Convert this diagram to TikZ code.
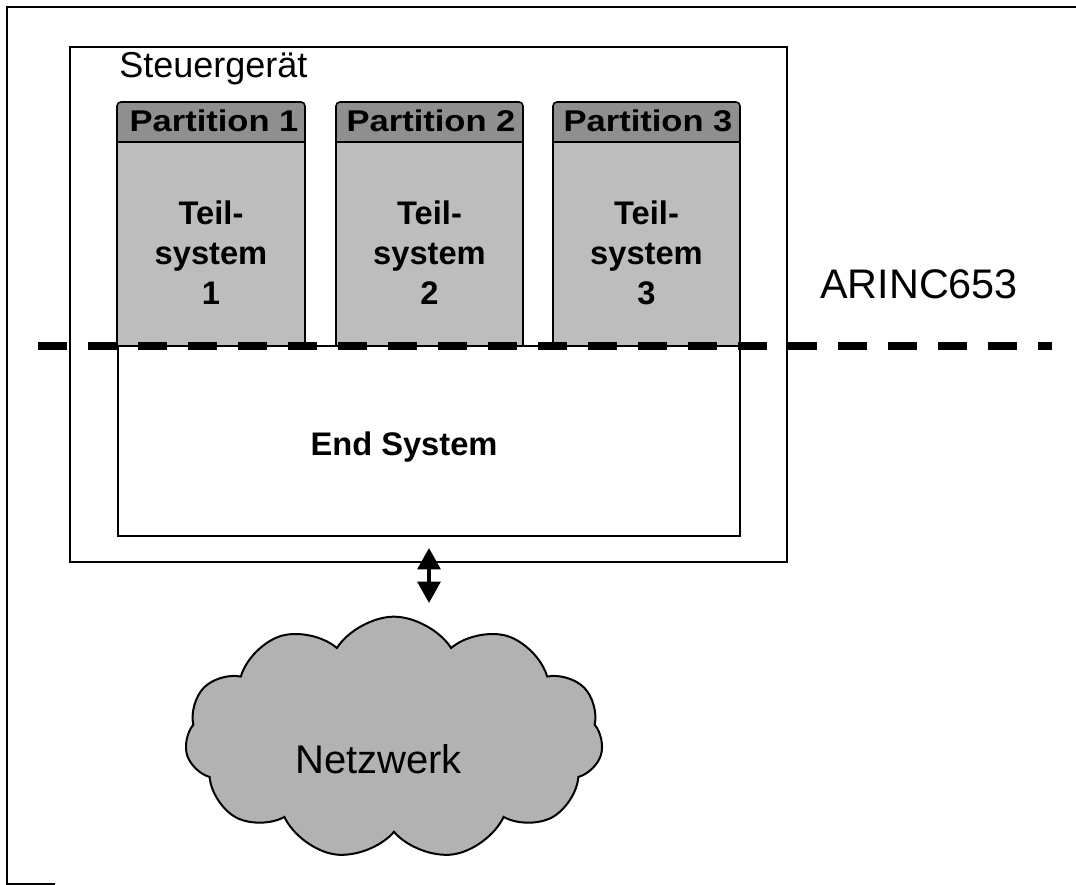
\documentclass[tikz,border=0pt]{standalone}
\usepackage{fontspec}
\setmainfont{Liberation Sans}
\usetikzlibrary{arrows.meta,shapes.symbols}
\definecolor{bodygray}{gray}{0.74}
\definecolor{hdrgray}{gray}{0.56}
\definecolor{cloudgray}{gray}{0.70}
\begin{document}
\begin{tikzpicture}[x=0.75pt,y=-0.75pt,
  frameline/.style={line width=1.2pt},
  box/.style={draw, line width=1.2pt, rectangle, inner sep=0pt, outer sep=0pt},
  hdr/.style={box, fill=hdrgray, rounded corners=3pt, minimum height=36pt},
  partbody/.style={box, fill=bodygray, minimum height=153pt},
  hdrtext/.style={font=\fontsize{22.5}{24}\selectfont\bfseries},
  parttext/.style={font=\fontsize{24.5}{30}\selectfont\bfseries, align=center, inner sep=0pt},
  bigtext/.style={font=\fontsize{27}{30}\selectfont, inner sep=0pt},
  dblarrow/.style={line width=3pt, {Triangle[width=17pt,length=16pt]}-{Triangle[width=17pt,length=16pt]}},
  layerline/.style={line width=6pt, dash pattern=on 21.75pt off 15.75pt}
]
\useasboundingbox (0,0) rectangle (1076,885);
\fill[white] (0,0) rectangle (1076,885);

% outer frame (partly visible)
\coordinate (fa) at (55,884);
\coordinate (fb) at (7,884);
\coordinate (fc) at (7,7);
\coordinate (fd) at (1076,7);
\draw[frameline] (fa) -- (fb) -- (fc) -- (fd);

% control unit and end system
\node[box, fill=white, minimum width=537.75pt, minimum height=386.25pt] (ecu) at (428.5,304.5) {};
\node[bigtext, anchor=base west] (ecutext) at (119,77) {Steuergerät};
\node[box, fill=white, minimum width=466.5pt, minimum height=142.5pt] (es) at (429,441) {};
\node[parttext] (estext) at (404,447) {End System};

% partitions
\node[hdr, minimum width=141pt] (h1) at (211,126) {};
\node[hdr, minimum width=140.25pt] (h2) at (429.5,126) {};
\node[hdr, minimum width=140.25pt] (h3) at (646.5,126) {};
\node[partbody, minimum width=141pt] (p1) at (211,244) {};
\node[partbody, minimum width=140.25pt] (p2) at (429.5,244) {};
\node[partbody, minimum width=140.25pt] (p3) at (646.5,244) {};
\node[hdrtext] (h1t) at (214,121) {\scalebox{1.15}[1]{Partition 1}};
\node[hdrtext] (h2t) at (431,121) {\scalebox{1.15}[1]{Partition 2}};
\node[hdrtext] (h3t) at (648,121) {\scalebox{1.15}[1]{Partition 3}};
\node[parttext] (t1) at (211,253) {Teil-\\system\\1};
\node[parttext] (t2) at (429.5,253) {Teil-\\system\\2};
\node[parttext] (t3) at (646.5,253) {Teil-\\system\\3};

% ARINC 653 interface line
\coordinate (dl) at (38,346);
\coordinate (dr) at (1052,346);
\draw[layerline] (dl) -- (dr);
\node[bigtext, font=\fontsize{31}{34}\selectfont, anchor=base west] (arinc) at (820,298) {ARINC653};

% network
\node[cloud, draw, line width=1.5pt, fill=cloudgray, cloud puffs=11, cloud puff arc=115, aspect=1.72,
      minimum width=313.5pt, minimum height=182pt, inner sep=0pt] (net) at (394,738) {};
\node[font=\fontsize{30}{32}\selectfont, anchor=base, inner sep=0pt] (nettext) at (378.5,773) {Netzwerk};

% link between end system and network
\coordinate (atop) at (429,548);
\coordinate (abot) at (429,603);
\draw[dblarrow] (atop) -- (abot);
\end{tikzpicture}
\end{document}
